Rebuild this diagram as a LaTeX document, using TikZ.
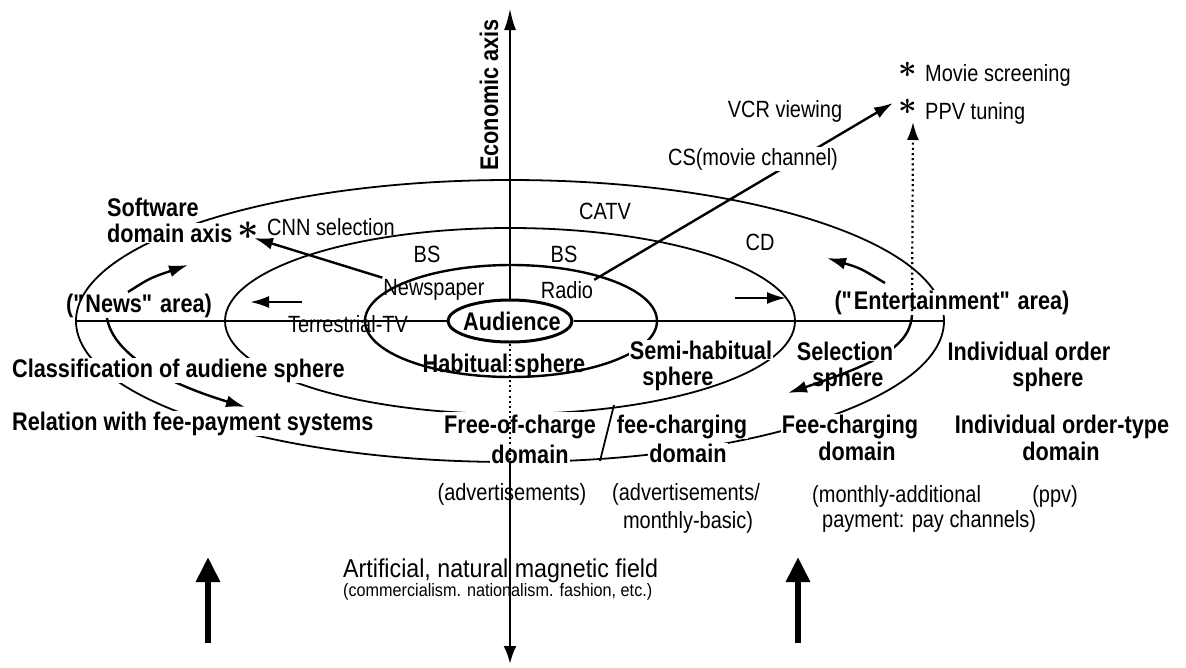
\documentclass[tikz,border=0pt]{standalone}
\usepackage{graphicx}
\usepackage{fontspec}
\setmainfont{Liberation Sans}[FakeStretch=0.85]
\newfontfamily\lightfont{Liberation Sans}[FakeStretch=0.9]
\usetikzlibrary{arrows.meta,shapes.geometric}
\pgfdeclarelayer{background}
\pgfsetlayers{background,main}
\newcommand{\dq}{\textquotedbl}
\begin{document}
\begin{tikzpicture}[x=1pt,y=-1pt,
  every node/.style={inner sep=1pt},
  lbl/.style={font=\fontsize{23.5}{26}\selectfont},
  blbl/.style={font=\bfseries\fontsize{25.5}{27}\selectfont},
  mask/.style={fill=white},
  ring/.style={line width=1.8pt},
  pointer/.style={line width=2.4pt,-{Latex[length=19pt,width=12pt]}},
  bigup/.style={line width=6pt,-{Triangle[length=25pt,width=23pt]}},
  dots/.style={line width=2.2pt,dash pattern=on 2pt off 3.2pt},
  starmark/.style={inner sep=0pt},
]
\path[use as bounding box] (0,0) rectangle (1186,667);

% ---------- free ends of connectors ----------
\coordinate (axtop) at (510,8);
\coordinate (axmid) at (510,462);
\coordinate (axbot) at (510,664);
\coordinate (hleft) at (77,321);
\coordinate (hright) at (945,321);
\coordinate (cnntip) at (254,238);
\coordinate (ppvtip) at (893,103);
\coordinate (dotfoot) at (912,311);
\coordinate (dothead) at (913,122);
\coordinate (slashlo) at (600,461);
\coordinate (slashhi) at (614,405);
\coordinate (nwupA) at (128,292);
\coordinate (nwupB) at (188,265);
\coordinate (nwdnA) at (107,318);
\coordinate (nwdnB) at (245,407);
\coordinate (enupA) at (885,283);
\coordinate (enupB) at (827,258);
\coordinate (endnB) at (788,393);
\coordinate (lfA) at (302,302);
\coordinate (lfB) at (250,302);
\coordinate (rtA) at (735,298);
\coordinate (rtB) at (786,298);
\coordinate (bigLA) at (208,643);
\coordinate (bigLB) at (208,557);
\coordinate (bigRA) at (798,643);
\coordinate (bigRB) at (798,557);

% ---------- labels ----------
\node[blbl, rotate=90, anchor=base west] (econ) at (498,172) {Economic axis};
\node[starmark] (mstar) at (908,70) {\scalebox{1.3}{\Huge\boldmath$\ast$}};
\node[lbl, anchor=base west] (movie) at (924,81) {Movie screening};
\node[starmark] (pstar) at (908,107) {\scalebox{1.3}{\Huge\boldmath$\ast$}};
\node[lbl, anchor=base west] (ppv) at (924,119) {PPV tuning};
\node[lbl, anchor=base] (vcr) at (785,117) {VCR viewing};
\node[lbl, anchor=base, mask] (cs) at (753,165) {CS(movie channel)};
\node[lbl, anchor=base] (catv) at (605,219) {CATV};
\node[lbl, anchor=base] (cd) at (760,250) {CD};
\node[lbl, anchor=base] (bsl) at (427,262) {BS};
\node[lbl, anchor=base] (bsr) at (564,262) {BS};
\node[lbl, anchor=base] (newsp) at (434,295) {Newspaper};
\node[lbl, anchor=base] (radio) at (567,298) {Radio};
\node[lbl, anchor=base] (terr) at (348,332) {Terrestrial-TV};
\node[blbl, anchor=base west] (soft1) at (106,216) {Software};
\node[blbl, anchor=base west, mask] (soft2) at (106,242) {domain axis};
\node[starmark] (cstar) at (248,231) {\scalebox{1.5}{\Huge\boldmath$\ast$}};
\node[lbl, anchor=base west] (cnn) at (266,235) {CNN selection};
\node[blbl, anchor=base] (news) at (139,312) {(\dq News\dq\ area)};
\node[blbl, anchor=base, mask] (ent) at (952,309) {(\dq Entertainment\dq\ area)};
\node[blbl, anchor=base west, mask] (class) at (11,377) {Classification of audiene sphere};
\node[blbl, anchor=base west, mask] (rel) at (11,430) {Relation with fee-payment systems};

\node[draw, ellipse, line width=3pt, mask, minimum width=124pt, minimum height=42pt, inner sep=0pt] (audring) at (510,321) {};
\node[blbl, anchor=base] (aud) at (512,330) {Audience};
\node[blbl, anchor=base] (habit) at (504,372) {Habitual sphere};
\node[blbl, anchor=base, mask] (semi) at (701,359) {Semi-habitual};
\node[blbl, anchor=base] (semisph) at (678,385) {sphere};
\node[blbl, anchor=base, mask] (sel) at (845,360) {Selection};
\node[blbl, anchor=base] (selsph) at (848,386) {sphere};
\node[blbl, anchor=base] (ind) at (1029,360) {Individual order};
\node[blbl, anchor=base] (indsph) at (1048,386) {sphere};

\node[blbl, anchor=base, mask, inner ysep=3pt] (free) at (520,433) {Free-of-charge};
\node[blbl, anchor=base, mask] (freedom) at (530,463) {domain};
\node[blbl, anchor=base, mask] (fee) at (682,433) {fee-charging};
\node[blbl, anchor=base, mask] (feedom) at (688,462) {domain};
\node[blbl, anchor=base, mask] (pay) at (850,433) {Fee-charging};
\node[blbl, anchor=base, mask] (paydom) at (857,460) {domain};
\node[blbl, anchor=base] (indt) at (1062,433) {Individual order-type};
\node[blbl, anchor=base] (inddom) at (1061,460) {domain};

\node[lbl, anchor=base] (adv) at (512,500) {(advertisements)};
\node[lbl, anchor=base] (adv2) at (686,500) {(advertisements/};
\node[lbl, anchor=base] (basic) at (688,528) {monthly-basic)};
\node[lbl, anchor=base west] (addl) at (811,502) {(monthly-additional};
\node[lbl, anchor=base west] (paych) at (821,527) {payment: pay channels)};
\node[lbl, anchor=base] (ppvl) at (1055,502) {(ppv)};
\node[font=\lightfont\fontsize{25.8}{28}\selectfont, anchor=base west] (field) at (342,577) {Artificial, natural magnetic field};
\node[font=\lightfont\fontsize{18}{20}\selectfont, anchor=base west] (causes) at (342,596) {(commercialism. nationalism. fashion, etc.)};

% ---------- spheres, horizontal axis and arrows (behind the labels) ----------
\begin{pgfonlayer}{background}
  \fill[white] (0,0) rectangle (1186,667);
  \draw[ring] (510,321) ellipse [x radius=434, y radius=141];
  \draw[ring] (510,321) ellipse [x radius=285, y radius=93];
  \draw[line width=2.4pt] (511,321) ellipse [x radius=146, y radius=56];
  \draw[ring] (slashlo) -- (slashhi);
  \draw[line width=2pt] (hleft) -- (audring.west);
  \draw[line width=2pt] (audring.east) -- (hright);
  \draw[pointer] (newsp.north west) -- (cnntip);
  \draw[pointer] (radio.north east) -- (ppvtip);
  \draw[pointer] (nwupA) .. controls (150,278) .. (nwupB);
  \draw[pointer] (nwdnA) .. controls (112,348) and (150,378) .. (nwdnB);
  \draw[pointer] (enupA) .. controls (860,268) .. (enupB);
  \draw[pointer] (dotfoot) .. controls (913,345) and (880,362) .. (endnB);
  \draw[pointer] (lfA) -- (lfB);
  \draw[pointer] (rtA) -- (rtB);
  \draw[bigup] (bigLA) -- (bigLB);
  \draw[bigup] (bigRA) -- (bigRB);
\end{pgfonlayer}

% ---------- economic axis and the dotted link ----------
\draw[line width=2.8pt, -{Latex[length=22pt,width=12pt]}] (audring.north) -- (axtop);
\draw[dots] (audring.south) -- (axmid);
\draw[line width=2.8pt, -{Latex[length=18pt,width=13pt]}] (axmid) -- (axbot);
\draw[dots, -{Latex[length=18pt,width=12pt]}] (dotfoot) -- (dothead);
\end{tikzpicture}
\end{document}
